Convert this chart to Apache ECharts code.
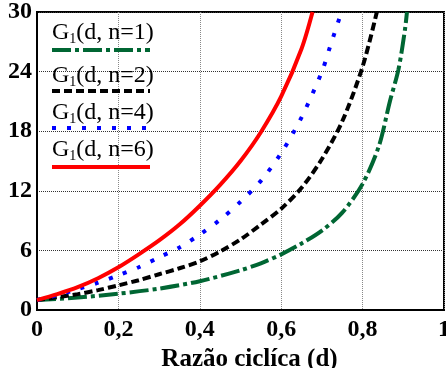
<!DOCTYPE html>
<html>
<head>
<meta charset="utf-8">
<script src="https://cdn.jsdelivr.net/npm/echarts@6/dist/echarts.min.js"></script>
<style>
  html, body { margin: 0; padding: 0; background: #fff; }
  #chart { width: 446px; height: 368px; }
</style>
</head>
<body>
<div id="chart"></div>
<script>
// G1(d, n) curves
const dN1 = [0, 0.1, 0.2, 0.3, 0.4, 0.5, 0.55, 0.6, 0.65, 0.7, 0.75, 0.8, 0.84, 0.867, 0.888, 0.904, 0.909]
const gN1 = [1.0, 1.25, 1.64, 2.15, 2.9, 4.0, 4.7, 5.6, 6.7, 8.0, 9.8, 12.7, 16.5, 21.0, 24.2, 28.2, 30]

const dN2 = [0, 0.1, 0.15, 0.2, 0.25, 0.3, 0.35, 0.4, 0.45, 0.5, 0.55, 0.6, 0.65, 0.7, 0.75, 0.8, 0.835]
const gN2 = [1.0, 1.6, 2.0, 2.48, 3.0, 3.6, 4.2, 4.9, 5.9, 7.1, 8.6, 10.2, 12.3, 15.2, 19.0, 24.5, 30]

const dN4 = [0, 0.05, 0.1, 0.15, 0.2, 0.25, 0.3, 0.35, 0.4, 0.45, 0.5, 0.55, 0.6, 0.65, 0.7, 0.72, 0.748]
const gN4 = [1.0, 1.5, 2.1, 2.75, 3.5, 4.3, 5.3, 6.3, 7.6, 9.1, 10.9, 13.0, 15.8, 19.4, 24.0, 26.5, 30]

const dN6 = [0, 0.05, 0.1, 0.15, 0.2, 0.25, 0.3, 0.35, 0.4, 0.45, 0.5, 0.55, 0.6, 0.65, 0.677]
const gN6 = [1.0, 1.6, 2.3, 3.2, 4.3, 5.6, 7.0, 8.6, 10.5, 12.6, 15.0, 17.9, 21.5, 26.3, 30]

const seriesNames = ['n=1', 'n=2', 'n=4', 'n=6']

const chart = echarts.init(document.getElementById('chart'))
const serif = 'Liberation Serif'

const pairs = (xs, ys) => xs.map((x, i) => [x, ys[i]])

// legend drawn by hand: text on top, line sample below
const legendRows = [
    { name: seriesNames[0], color: '#006633', dash: [19, 4, 4, 4], textY: 34, lineY: 50 },
    { name: seriesNames[1], color: '#000000', dash: [8, 4], textY: 77, lineY: 91 },
    { name: seriesNames[2], color: '#0000ff', dash: [4, 11], textY: 114, lineY: 128 },
    { name: seriesNames[3], color: '#ff0000', dash: null, textY: 151, lineY: 167 }
]
const legendGraphics = []
legendRows.forEach(r => {
    legendGraphics.push({
        type: 'text',
        left: 52,
        top: r.textY - 13,
        style: {
            text: '{m|G}{s|1}{m|(d, ' + r.name + ')}',
            rich: {
                m: { fontFamily: serif, fontSize: 24, lineHeight: 26, fill: '#000' },
                s: { fontFamily: serif, fontSize: 14, lineHeight: 14, verticalAlign: 'bottom', fill: '#000' }
            }
        },
        z: 10
    })
    legendGraphics.push({
        type: 'line',
        shape: { x1: 52, y1: r.lineY, x2: 150, y2: r.lineY },
        style: { stroke: r.color, lineWidth: 4, lineDash: r.dash, lineCap: 'butt' },
        z: 10
    })
})

let options = {
    backgroundColor: '#fff',
    animation: false,
    grid: {
        left: 37,
        right: 2,
        top: 12,
        bottom: 58,
        outerBoundsMode: 'none',
        show: true,
        borderColor: '#000',
        borderWidth: 2
    },
    xAxis: {
        type: 'value',
        min: 0,
        max: 1,
        interval: 0.2,
        name: 'Razão ciclíca (d)',
        nameLocation: 'middle',
        nameGap: 37,
        nameTextStyle: { fontFamily: serif, fontSize: 25, fontWeight: 'bold', color: '#000', padding: [0, 0, 0, 18] },
        axisLine: { lineStyle: { color: '#000', width: 2 } },
        axisTick: { show: false },
        axisLabel: {
            fontFamily: serif,
            fontSize: 24,
            fontWeight: 'bold',
            color: '#000',
            margin: 8,
            formatter: v => (v === 0 || v === 1) ? String(v) : v.toFixed(1).replace('.', ',')
        },
        splitLine: { lineStyle: { type: 'dotted', color: '#888', width: 1 } }
    },
    yAxis: {
        type: 'value',
        min: 0,
        max: 30,
        interval: 6,
        axisLine: { show: true, lineStyle: { color: '#000', width: 2 } },
        axisTick: { show: false },
        axisLabel: {
            fontFamily: serif,
            fontSize: 24,
            fontWeight: 'bold',
            color: '#000',
            margin: 5
        },
        splitLine: { lineStyle: { type: 'dotted', color: '#333', width: 1 } }
    },
    graphic: legendGraphics,
    series: [
        {
            name: seriesNames[0],
            type: 'line',
            data: pairs(dN1, gN1),
            showSymbol: false,
            smooth: 0.3,
            lineStyle: { color: '#006633', width: 4, type: [19, 4, 4, 4], cap: 'butt' }
        },
        {
            name: seriesNames[1],
            type: 'line',
            data: pairs(dN2, gN2),
            showSymbol: false,
            smooth: 0.3,
            lineStyle: { color: '#000', width: 4, type: [8, 4], cap: 'butt' }
        },
        {
            name: seriesNames[2],
            type: 'line',
            data: pairs(dN4, gN4),
            showSymbol: false,
            smooth: 0.3,
            lineStyle: { color: '#0000ff', width: 4, type: [4, 11], cap: 'butt' }
        },
        {
            name: seriesNames[3],
            type: 'line',
            data: pairs(dN6, gN6),
            showSymbol: false,
            smooth: 0.3,
            lineStyle: { color: '#ff0000', width: 4 }
        }
    ]
}

chart.setOption(options)
</script>
</body>
</html>
